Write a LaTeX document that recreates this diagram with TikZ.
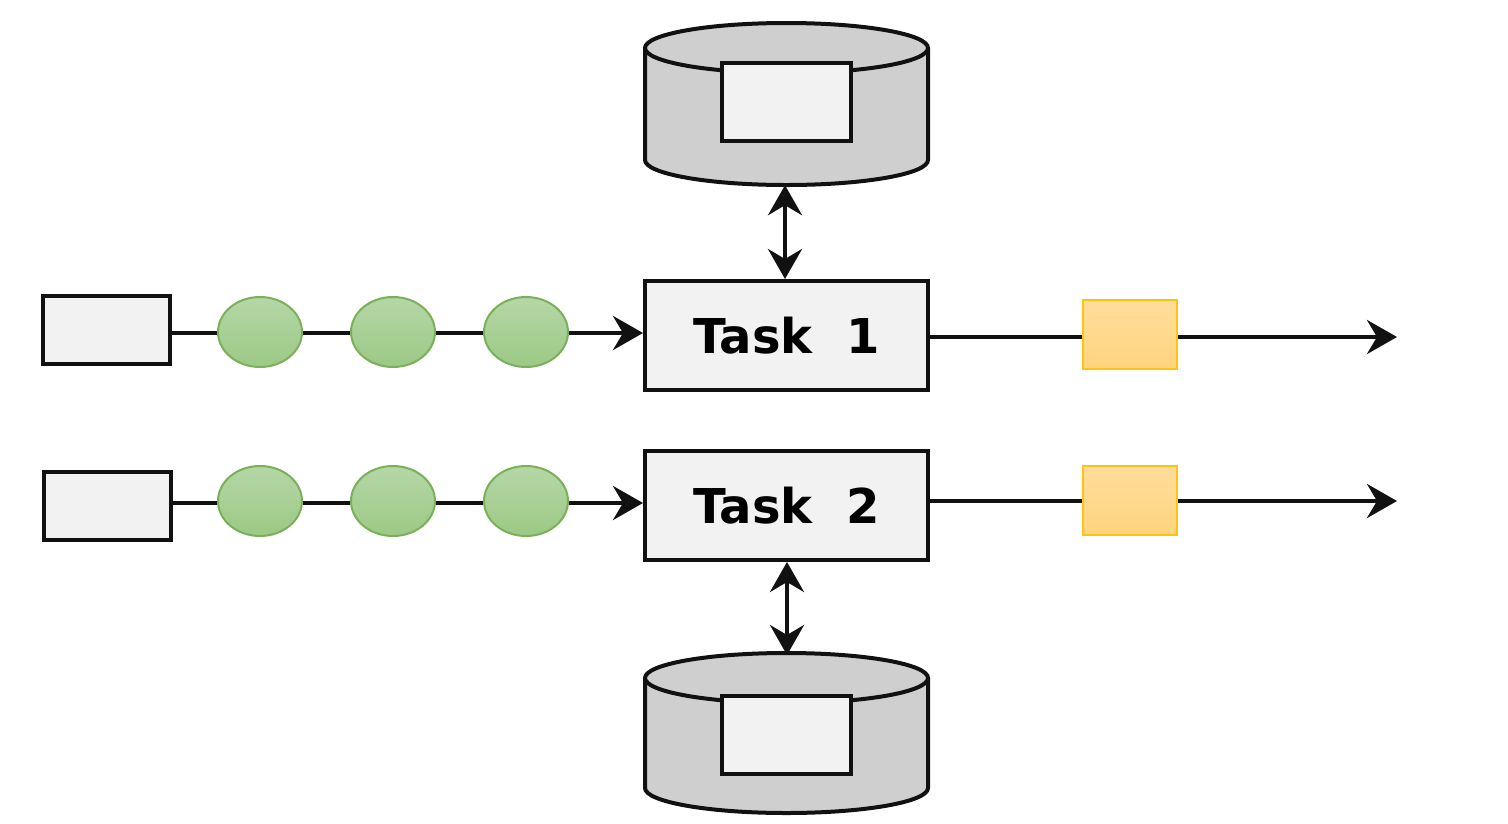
\documentclass[tikz,border=0pt]{standalone}
\usepackage{fontspec}
\setmainfont{DejaVu Sans}
\usetikzlibrary{arrows.meta}
\definecolor{boxfill}{HTML}{F2F2F2}
\definecolor{dbfill}{HTML}{D0CFD0}
\definecolor{lineblk}{HTML}{111111}
\definecolor{gtop}{HTML}{B5D7A7}
\definecolor{gbot}{HTML}{9CC984}
\definecolor{gstroke}{HTML}{7CAF5A}
\definecolor{otop}{HTML}{FFDD9C}
\definecolor{obot}{HTML}{FFD47E}
\definecolor{ostroke}{HTML}{FFC20E}
\tikzset{
  x=1pt, y=-1pt,
  blk/.style={draw=lineblk, line width=4pt},
  grbox/.style={blk, fill=boxfill, rectangle, inner sep=0pt},
  task/.style={grbox, minimum width=283pt, minimum height=109pt, font=\bfseries\fontsize{48}{58}\selectfont},
  srcbox/.style={grbox, minimum width=127pt, minimum height=68pt},
  token/.style={ellipse, draw=gstroke, line width=2pt, top color=gtop, bottom color=gbot, minimum width=84pt, minimum height=70pt, inner sep=0pt},
  outbox/.style={rectangle, draw=ostroke, line width=2pt, top color=otop, bottom color=obot, minimum width=94pt, minimum height=69pt, inner sep=0pt},
  conn/.style={draw=lineblk, line width=4pt},
  arr/.style={conn, -{Stealth[length=30pt,width=34pt,inset=10pt]}},
  darr/.style={conn, {Stealth[length=30pt,width=34pt,inset=10pt]}-{Stealth[length=30pt,width=34pt,inset=10pt]}},
}
\usetikzlibrary{shapes.geometric}
\begin{document}
\begin{tikzpicture}
\useasboundingbox (0,0) rectangle (1508,823);

% top database
\draw[blk, fill=dbfill] (645,48) -- (645,160) arc[start angle=180, end angle=0, x radius=141.5, y radius=25] -- (928,48);
\draw[blk, fill=dbfill] (786.5,48) ellipse[x radius=141.5, y radius=25];
\node[draw=none, minimum width=283pt, minimum height=162pt, inner sep=0pt] (db1) at (786.5,104) {};
\node[grbox, minimum width=129pt, minimum height=78pt] (db1in) at (786.5,102) {};

% bottom database
\draw[blk, fill=dbfill] (645,678) -- (645,788) arc[start angle=180, end angle=0, x radius=141.5, y radius=25] -- (928,678);
\draw[blk, fill=dbfill] (786.5,678) ellipse[x radius=141.5, y radius=25];
\node[draw=none, minimum width=283pt, minimum height=160pt, inner sep=0pt] (db2) at (786.5,733) {};
\node[grbox, minimum width=129pt, minimum height=78pt] (db2in) at (786.5,735) {};

% tasks
\node[task] (t1) at (786.5,335.5) {Task~~1};
\node[task] (t2) at (786.5,505.5) {Task~~2};

% source boxes
\node[srcbox] (s1) at (106.5,330) {};
\node[srcbox] (s2) at (107.5,505.5) {};

% row 1
\coordinate (r1) at (0,333);
\draw[arr] (s1.east |- r1) -- (t1.west |- r1);
\node[token] (a1) at (260,332) {};
\node[token] (a2) at (393,332) {};
\node[token] (a3) at (526,332) {};
\coordinate (o1) at (1397,337);
\draw[arr] (t1.east |- o1) -- (o1);
\node[outbox] (q1) at (1130,334.5) {};

% row 2
\coordinate (r2) at (0,503);
\draw[arr] (s2.east |- r2) -- (t2.west |- r2);
\node[token] (b1) at (260,501) {};
\node[token] (b2) at (393,501) {};
\node[token] (b3) at (526,501) {};
\coordinate (o2) at (1397,501);
\draw[arr] (t2.east |- o2) -- (o2);
\node[outbox] (q2) at (1129.5,500.5) {};

% database links
\draw[darr] (db1.south -| 785,0) -- (t1.north -| 785,0);
\draw[darr] (t2.south -| 787,0) -- (787,655);
\end{tikzpicture}
\end{document}
